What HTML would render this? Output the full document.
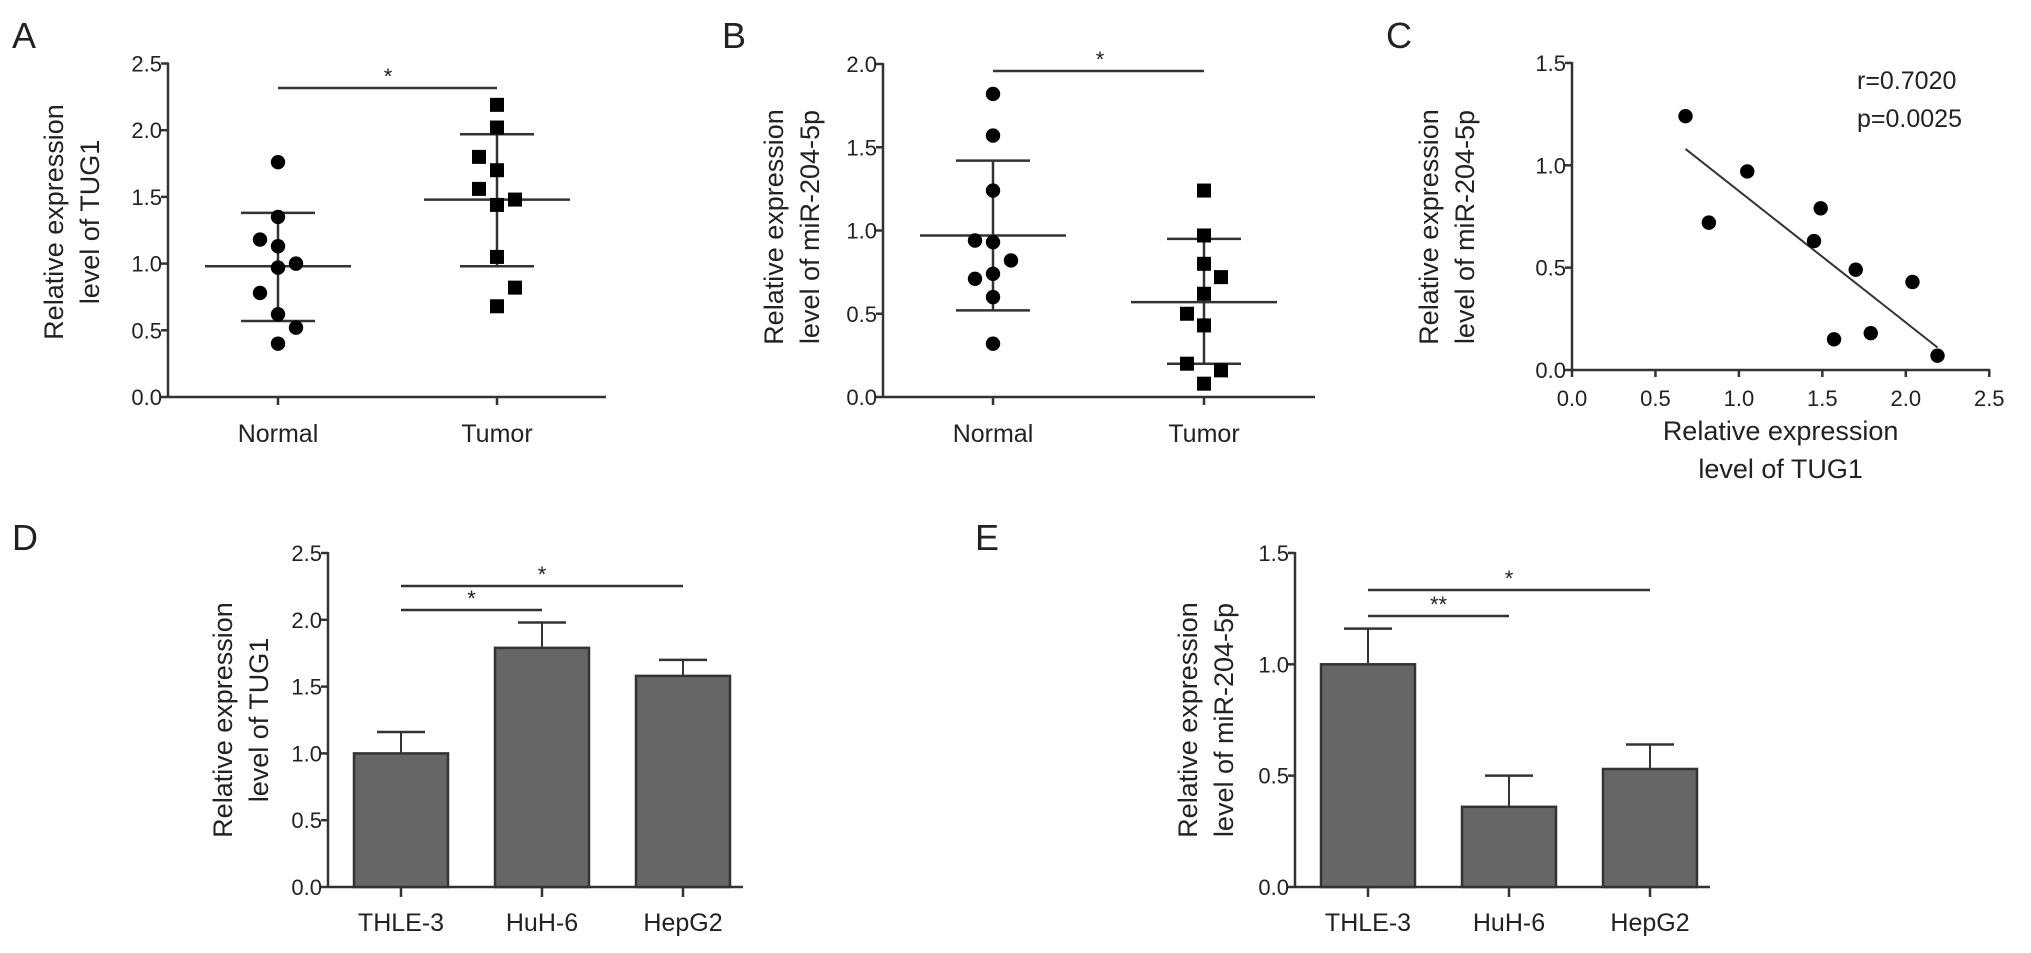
<!DOCTYPE html>
<html><head><meta charset="utf-8"><style>
body{margin:0;background:#fff}
svg{display:block;font-family:"Liberation Sans",Arial,sans-serif}
</style></head><body>
<svg id="fig" width="2031" height="953" viewBox="0 0 2031 953">
<rect width="2031" height="953" fill="#fff"/>
</svg>
<script>
// ---- data ----
const aNormal = [1.76,1.35,1.18,1.13,1.00,0.97,0.78,0.62,0.52,0.40];
const aNormalOff = [0,0,-1,0,1,0,-1,0,1,0];
const aTumor = [2.19,2.02,1.80,1.70,1.56,1.48,1.44,1.05,0.82,0.68];
const aTumorOff = [0,0,-1,0,-1,1,0,0,1,0];
const aStats = [0.98,1.38,0.57,1.48,1.97,0.98];
const bNormal = [1.82,1.57,1.24,0.94,0.93,0.82,0.74,0.71,0.60,0.32];
const bNormalOff = [0,0,0,-1,0,1,0,-1,0,0];
const bTumor = [1.24,0.97,0.80,0.72,0.62,0.50,0.43,0.20,0.16,0.08];
const bTumorOff = [0,0,0,1,0,-1,0,-1,1,0];
const bStats = [0.97,1.42,0.52,0.57,0.95,0.20];
const cX = [0.68,0.82,1.05,1.45,1.49,1.57,1.70,1.79,2.04,2.19];
const cY = [1.24,0.72,0.97,0.63,0.79,0.15,0.49,0.18,0.43,0.07];
const cFit = [0.68,1.08,2.19,0.11];
const cellLines = ["THLE-3","HuH-6","HepG2"];
const dVals = [1.00,1.79,1.58];
const dErr = [1.16,1.98,1.70];
const eVals = [1.00,0.36,0.53];
const eErr = [1.16,0.50,0.64];
const aTicks = ["0.0","0.5","1.0","1.5","2.0","2.5"];
const bTicks = ["0.0","0.5","1.0","1.5","2.0"];
const cTicks = ["0.0","0.5","1.0","1.5"];
const cXTicks = ["0.0","0.5","1.0","1.5","2.0","2.5"];
const eTicks = ["0.0","0.5","1.0","1.5"];

const svg = document.getElementById('fig');
const NS = 'http://www.w3.org/2000/svg';
const AX = '#333';
function el(tag, attrs, parent){
  const e = document.createElementNS(NS, tag);
  for (const k in attrs) e.setAttribute(k, attrs[k]);
  (parent||svg).appendChild(e);
  return e;
}
function grp(name){
  const g = el('g', {});
  
  
  return g;
}
function line(p,x1,y1,x2,y2,w,name){
  const l = el('line',{x1:x1,y1:y1,x2:x2,y2:y2,stroke:AX,'stroke-width':w||2.5},p);
  
  
  return l;
}
function text(p,x,y,s,size,anchor,name,rot){
  const t = el('text',{x:x,y:y,'font-size':size,'text-anchor':anchor||'middle',fill:'#222'},p);
  if (rot) t.setAttribute('transform','rotate(-90 '+x+' '+y+')');
  t.textContent = s;
  
  
  return t;
}
function yAxis(p, x, y0, perUnit, ticks, step){
  line(p,x,y0+1,x,y0-perUnit*step*(ticks.length-1)-1,2.5,'y-axis-line');
  ticks.forEach((t,i)=>{
    const y = y0 - perUnit*step*i;
    line(p,x-7,y,x,y,2.5,'y-tick');
    text(p,x-6,y+8,t,22,'end','y-tick-label');
  });
}
function ytitle(p,cx,cy,l1,l2){
  text(p,cx-17,cy,l1,27,'middle','y-axis-title-line1',true);
  text(p,cx+19,cy,l2,27,'middle','y-axis-title-line2',true);
}
function letter(x,y,s){
  text(svg,x,y,s,36,'start','panel-label-'+s.toLowerCase());
}

// ---------- Panel A ----------
(function(){
  const g = grp('panel-a');
  const x0=168, y0=397, pu=133.4;
  const sy = v => y0 - pu*v;
  const cats=[278,497];
  yAxis(g,x0,y0,pu,aTicks,0.5);
  line(g,x0,y0,606,y0,2.5,'x-axis-line');
  cats.forEach((c,i)=>{ line(g,c,y0,c,y0+8,2.5,'x-tick'); text(g,c,y0+45,['Normal','Tumor'][i],25,'middle','x-tick-label'); });
  ytitle(g,80,222,'Relative expression','level of TUG1');
  [[0,cats[0]],[1,cats[1]]].forEach(([k,c])=>{
    const m=aStats[k*3],hi=aStats[k*3+1],lo=aStats[k*3+2];
    line(g,c-73,sy(m),c+73,sy(m),2.5,'mean-line');
    line(g,c-37,sy(hi),c+37,sy(hi),2.5,'sd-upper');
    line(g,c-37,sy(lo),c+37,sy(lo),2.5,'sd-lower');
    line(g,c,sy(hi),c,sy(lo),2.5,'sd-whisker');
  });
  aNormal.forEach((v,i)=>{
    const c = el('circle',{cx:cats[0]+aNormalOff[i]*18,cy:sy(v),r:7.2,fill:'#000'},g);
    
    
  });
  aTumor.forEach((v,i)=>{
    const r = el('rect',{x:cats[1]+aTumorOff[i]*18-7,y:sy(v)-7,width:14,height:14,fill:'#000'},g);
    
    
  });
  line(g,278,88,497,88,2.5,'significance-bar');
  text(g,388,84,'*',22,'middle','significance-star');
})();
letter(12,48,'A');

// ---------- Panel B ----------
(function(){
  const g = grp('panel-b');
  const x0=883, y0=397, pu=166.5;
  const sy = v => y0 - pu*v;
  const cats=[993,1204];
  yAxis(g,x0,y0,pu,bTicks,0.5);
  line(g,x0,y0,1315,y0,2.5,'x-axis-line');
  cats.forEach((c,i)=>{ line(g,c,y0,c,y0+8,2.5,'x-tick'); text(g,c,y0+45,['Normal','Tumor'][i],25,'middle','x-tick-label'); });
  ytitle(g,800,227,'Relative expression','level of miR-204-5p');
  [[0,cats[0]],[1,cats[1]]].forEach(([k,c])=>{
    const m=bStats[k*3],hi=bStats[k*3+1],lo=bStats[k*3+2];
    line(g,c-73,sy(m),c+73,sy(m),2.5,'mean-line');
    line(g,c-37,sy(hi),c+37,sy(hi),2.5,'sd-upper');
    line(g,c-37,sy(lo),c+37,sy(lo),2.5,'sd-lower');
    line(g,c,sy(hi),c,sy(lo),2.5,'sd-whisker');
  });
  bNormal.forEach((v,i)=>{
    const c = el('circle',{cx:cats[0]+bNormalOff[i]*18,cy:sy(v),r:7.2,fill:'#000'},g);
    
    
  });
  bTumor.forEach((v,i)=>{
    const r = el('rect',{x:cats[1]+bTumorOff[i]*17-7,y:sy(v)-7,width:14,height:14,fill:'#000'},g);
    
    
  });
  line(g,993,71,1204,71,2.5,'significance-bar');
  text(g,1100,67,'*',22,'middle','significance-star');
})();
letter(722,48,'B');

// ---------- Panel C ----------
(function(){
  const g = grp('panel-c');
  const x0=1572, y0=370, pv=204.7, ph=166.9;
  const sy = v => y0 - pv*v, sx = v => x0 + ph*v;
  yAxis(g,x0,y0,pv,cTicks,0.5);
  line(g,x0,y0,sx(2.5)+1,y0,2.5,'x-axis-line');
  cXTicks.forEach((t,i)=>{
    const x = sx(0.5*i);
    line(g,x,y0,x,y0+7,2.5,'x-tick');
    text(g,x,y0+36,t,22,'middle','x-tick-label');
  });
  ytitle(g,1455,227,'Relative expression','level of miR-204-5p');
  text(g,sx(1.25),440,'Relative expression',27,'middle','x-axis-title-line1');
  text(g,sx(1.25),478,'level of TUG1',27,'middle','x-axis-title-line2');
  line(g,sx(cFit[0]),sy(cFit[1]),sx(cFit[2]),sy(cFit[3]),2,'regression-line');
  cX.forEach((v,i)=>{
    const c = el('circle',{cx:sx(v),cy:sy(cY[i]),r:7.2,fill:'#000'},g);
    
    
  });
  text(g,1857,89,'r=0.7020',25,'start','r-value');
  text(g,1857,127,'p=0.0025',25,'start','p-value');
})();
letter(1386,48,'C');

// ---------- bar panels ----------
function barPanel(name,x0,pu,ticks,vals,errs,cx,titleX,title2,sigs){
  const g = grp(name);
  const y0=887;
  const sy = v => y0 - pu*v;
  yAxis(g,x0,y0,pu,ticks,0.5);
  line(g,x0,y0,cx[2]+60,y0,2.5,'x-axis-line');
  vals.forEach((v,i)=>{
    const c=cx[i];
    line(g,c,sy(v),c,sy(errs[i]),2,'error-bar');
    line(g,c-24,sy(errs[i]),c+24,sy(errs[i]),2.5,'error-cap');
    const r = el('rect',{x:c-47,y:sy(v),width:94,height:pu*v,fill:'#666',stroke:'#333','stroke-width':2.5},g);
    
    
    line(g,c,y0,c,y0+10,2.5,'x-tick');
    text(g,c,y0+44,cellLines[i],25,'middle','x-tick-label');
  });
  ytitle(g,titleX,720,'Relative expression',title2);
  sigs.forEach(s=>{
    line(g,cx[0],s[0],cx[s[1]],s[0],2.5,'significance-bar');
    text(g,(cx[0]+cx[s[1]])/2,s[0]-4,s[2],22,'middle','significance-star');
  });
}
barPanel('panel-d',328,133.6,aTicks,dVals,dErr,[401,542,683],249,'level of TUG1',[[586,2,'*'],[610,1,'*']]);
barPanel('panel-e',1295,222.7,eTicks,eVals,eErr,[1368,1509,1650],1214,'level of miR-204-5p',[[590,2,'*'],[616,1,'**']]);
letter(12,550,'D');
letter(975,550,'E');
</script>
</body></html>
